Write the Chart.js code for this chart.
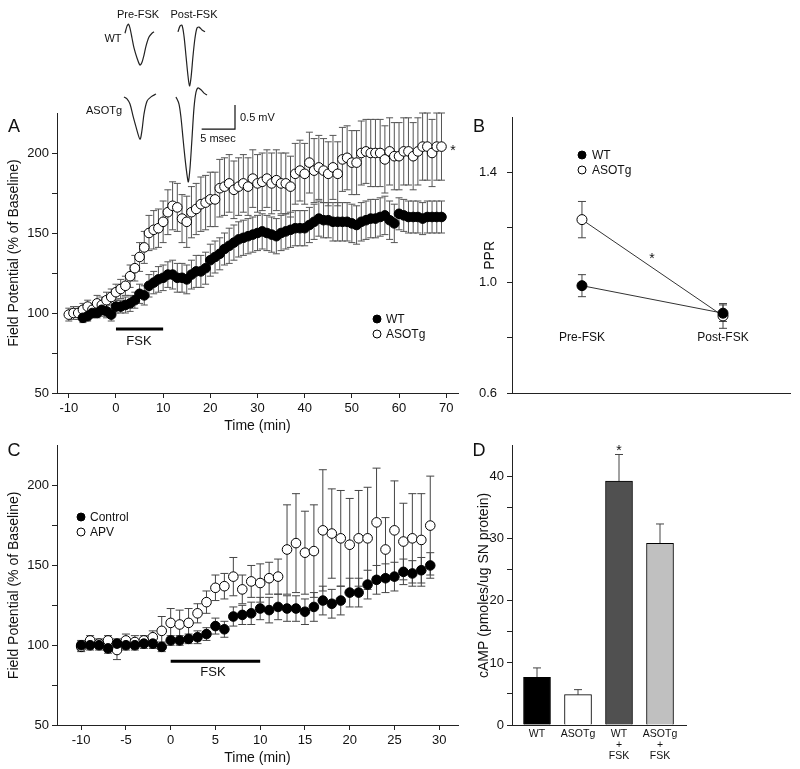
<!DOCTYPE html>
<html>
<head>
<meta charset="utf-8">
<title>FSK field potentials, PPR and cAMP</title>
<script src="https://cdn.jsdelivr.net/npm/chart.js@4.4.1/dist/chart.umd.min.js"></script>
<style>
  body { margin: 0; background: #fff; }
  #page { position: relative; width: 800px; height: 769px; overflow: hidden; font-family: "Liberation Sans", Arial, sans-serif; color: #111; }
  canvas { position: absolute; }
  .lbl { position: absolute; white-space: nowrap; line-height: 1; }
  .dot { position: absolute; width: 7px; height: 7px; border: 1px solid #000; border-radius: 50%; transform: translate(-50%, -50%); }
</style>
</head>
<body>
<div id="page">
  <canvas id="chartA" width="470" height="340" style="left:0;top:100px"></canvas>
  <canvas id="chartB" width="330" height="340" style="left:470px;top:100px"></canvas>
  <canvas id="chartC" width="470" height="334" style="left:0;top:435px"></canvas>
  <canvas id="chartD" width="330" height="334" style="left:470px;top:435px"></canvas>
  <canvas id="traces" width="200" height="190" style="left:100px;top:0"></canvas>
</div>
<script>
// ---- panel A: field potential (% of baseline), WT vs ASOTg ----
const timeA = [-10,-9,-8,-7,-6,-5,-4,-3,-2,-1,0,1,2,3,4,5,6,7,8,9,10,11,12,13,14,15,16,17,18,19,
  20,21,22,23,24,25,26,27,28,29,30,31,32,33,34,35,36,37,38,39,40,41,42,43,44,45,46,47,48,49,
  50,51,52,53,54,55,56,57,58,59,60,61,62,63,64,65,66,67,68,69];
const asotgA = [99,100,100,102,104,102,106,105,108,110,
  113,115,117,123,128,135,141,150,152,153,
  157,163,167,166,159,157,163,165,168,169,
  171,171,178,179,181,177,179,181,179,184,
  181,182,184,181,183,181,181,179,187,189,
  187,194,189,191,189,187,191,187,196,197,
  194,194,200,201,200,200,200,196,201,198,
  198,201,201,198,201,204,204,200,204,204];
const asotgAErr = [4,4,4,4,4,4,5,5,5,5,
  5,6,6,7,8,9,10,11,12,12,
  13,14,15,15,15,16,16,16,17,17,
  17,17,18,18,18,18,18,18,18,18,
  18,18,18,19,19,19,19,19,19,19,
  19,19,20,20,20,20,20,20,20,20,
  20,20,20,20,21,21,21,21,21,21,
  21,21,21,21,21,21,21,21,21,21];
const timeWT = [-7,-6,-5,-4,-3,-2,-1,0,1,2,3,4,5,6,7,8,9,10,11,12,13,14,15,16,17,18,19,
  20,21,22,23,24,25,26,27,28,29,30,31,32,33,34,35,36,37,38,39,40,41,42,43,44,45,46,47,48,49,
  50,51,52,53,54,55,56,57,58,59,60,61,62,63,64,65,66,67,68,69];
const wtA = [97,98,100,100,102,101,99,
  104,104,105,106,108,112,111,117,119,121,
  122,124,124,122,122,121,124,126,126,128,
  133,135,137,140,142,144,146,147,148,149,
  150,151,150,149,148,150,151,152,153,153,
  153,155,157,159,158,158,157,157,157,157,
  156,155,157,158,159,159,160,161,158,156,
  162,161,160,160,160,159,160,160,160,160];
const wtAErr = [3,3,3,3,4,4,4,
  4,4,5,5,5,6,6,7,7,8,
  8,8,9,9,9,9,9,10,10,10,
  10,10,10,10,11,11,11,11,11,11,
  11,11,11,11,11,11,11,11,11,11,
  11,11,11,11,11,11,12,12,12,12,
  12,12,12,12,12,12,12,12,12,12,
  10,10,10,10,10,10,10,10,10,10];
const xTicksA = [-10,0,10,20,30,40,50,60,70];
const yTicksA = [50,75,100,125,150,175,200];
const yLabelsA = [50,100,150,200];

// ---- panel B: paired-pulse ratio ----
const pprPos = [0, 1]; // Pre-FSK, Post-FSK
const pprWT = [0.99, 0.89];
const pprWTErr = [0.04, 0.03];
const pprASOTg = [1.23, 0.88];
const pprASOTgErr = [0.066, 0.045];
const yTicksB = [0.6, 0.8, 1.0, 1.2, 1.4];
const yLabelsB = [0.6, 1.0, 1.4];

// ---- panel C: Control vs APV ----
const timeC = [-10,-9,-8,-7,-6,-5,-4,-3,-2,-1,0,1,2,3,4,5,6,7,8,9,
  10,11,12,13,14,15,16,17,18,19,20,21,22,23,24,25,26,27,28,29];
const controlC = [100,100,100,98,101,100,100,101,101,99,
  103,103,104,105,107,112,110,118,119,120,
  123,122,124,123,123,121,124,128,126,128,
  133,133,138,141,142,143,146,145,147,150];
const controlCErr = [3,3,3,3,3,3,3,3,3,3,
  3,3,3,4,4,5,5,6,6,7,
  7,8,8,8,8,8,9,9,9,9,
  9,9,9,9,9,9,8,8,8,8];
const apvC = [99,103,101,103,97,103,102,103,105,109,
  114,113,114,120,127,136,137,143,135,140,
  139,142,143,160,164,158,159,172,170,167,
  163,167,167,177,160,172,165,167,166,175];
const apvCErr = [3,3,3,3,6,4,4,3,4,9,
  9,9,9,6,7,8,8,12,9,10,
  12,10,11,28,31,26,29,38,28,30,
  29,30,32,34,20,31,24,28,29,31];
const xTicksC = [-10,-5,0,5,10,15,20,25,30];

// ---- panel D: cAMP ----
const campGroups = [['WT'], ['ASOTg'], ['WT', '+', 'FSK'], ['ASOTg', '+', 'FSK']];
const campPos = [0, 1, 2, 3];
const campMean = [7.7, 4.9, 39.3, 29.3];
const campErr = [1.5, 0.8, 4.3, 3.1];
const yTicksD = [0,5,10,15,20,25,30,35,40];
const yLabelsD = [0,10,20,30,40];

// ---- example sweeps (ms, mV) ----
const wtPreTrace = [[3.75,-0.70],[4.05,-0.55],[4.28,-0.51],[4.5,-0.59],[4.8,-0.80],[5.1,-1.01],[5.55,-1.22],
  [6.0,-1.37],[6.3,-1.31],[6.6,-1.16],[6.9,-0.97],[7.35,-0.78],[7.8,-0.70],[8.1,-0.67]];
const wtPostTrace = [[11.7,-0.67],[12.0,-0.55],[12.3,-0.53],[12.6,-0.76],[12.9,-1.18],[13.2,-1.60],[13.43,-1.81],
  [13.65,-1.64],[13.95,-1.18],[14.25,-0.80],[14.55,-0.59],[14.85,-0.57],[15.3,-0.63],[15.75,-0.67]];
const asoPreTrace = [[3.6,-2.04],[4.05,-2.08],[4.5,-2.19],[4.95,-2.44],[5.4,-2.67],[6.0,-2.93],[6.3,-2.74],
  [6.6,-2.40],[7.05,-2.13],[7.65,-2.04],[8.4,-1.98]];
const asoPostTrace = [[11.4,-2.04],[11.85,-2.19],[12.15,-2.48],[12.45,-2.91],[12.75,-3.33],[13.05,-3.68],[13.25,-3.83],
  [13.5,-3.54],[13.8,-2.91],[14.1,-2.27],[14.4,-1.94],[14.7,-1.85],[15.15,-1.89],[15.6,-1.96],[16.05,-2.0]];
const scaleBar = [[15.25,-2.72],[20.25,-2.72],[20.25,-2.21]]; // 5 msec, 0.5 mV

const fskOn = 0, fskOff = 10, fskLevel = 90;

Chart.defaults.font.family = '"Liberation Sans", Arial, sans-serif';
Chart.defaults.color = '#111';

const xy = (xs, ys) => xs.map((x, i) => ({ x: x, y: ys[i] }));
const pairs = arr => arr.map(p => ({ x: p[0], y: p[1] }));
const setTicks = vals => axis => { axis.ticks = vals.map(v => ({ value: v })); };
const onlyLabels = labels => v => labels.includes(v) ? String(v) : '';

// error bars drawn from each dataset's "errors" list
const errorBars = {
  id: 'errorBars',
  beforeDatasetsDraw(chart) {
    const ctx = chart.ctx;
    const yScale = chart.scales.y;
    chart.data.datasets.forEach((ds, i) => {
      if (!ds.errors) return;
      const meta = chart.getDatasetMeta(i);
      ctx.save();
      ctx.strokeStyle = ds.errorColor || '#555';
      ctx.lineWidth = 1;
      meta.data.forEach((el, j) => {
        const v = ds.data[j].y;
        const e = ds.errors[j];
        const top = yScale.getPixelForValue(v + e);
        const bot = ds.errorUpOnly ? yScale.getPixelForValue(v) : yScale.getPixelForValue(v - e);
        const c = (ds.capWidth || 8) / 2;
        ctx.beginPath();
        ctx.moveTo(el.x, top); ctx.lineTo(el.x, bot);
        ctx.moveTo(el.x - c, top); ctx.lineTo(el.x + c, top);
        if (!ds.errorUpOnly) { ctx.moveTo(el.x - c, bot); ctx.lineTo(el.x + c, bot); }
        ctx.stroke();
      });
      ctx.restore();
    });
  }
};

// black FSK application bar
const fskBar = {
  id: 'fskBar',
  afterDatasetsDraw(chart) {
    const { ctx, scales: { x, y } } = chart;
    ctx.save();
    ctx.strokeStyle = '#000';
    ctx.lineWidth = 3;
    ctx.beginPath();
    ctx.moveTo(x.getPixelForValue(fskOn), y.getPixelForValue(fskLevel));
    ctx.lineTo(x.getPixelForValue(fskOff), y.getPixelForValue(fskLevel));
    ctx.stroke();
    ctx.restore();
  }
};

function axis(opts) {
  return Object.assign({
    type: 'linear',
    grid: { display: true, drawOnChartArea: false, drawTicks: true, tickLength: 5, color: '#222', offset: false },
    border: { display: true, color: '#222', width: 1 },
    ticks: { font: { size: 13 }, color: '#111', padding: 3, maxRotation: 0, autoSkip: false }
  }, opts);
}

const baseOptions = (padding, scales) => ({
  responsive: false,
  animation: false,
  events: [],
  layout: { padding: padding },
  plugins: { legend: { display: false }, tooltip: { enabled: false } },
  scales: scales
});

// Panel A
new Chart(document.getElementById('chartA'), {
  type: 'scatter',
  data: {
    datasets: [
      { label: 'WT', data: xy(timeWT, wtA), errors: wtAErr, capWidth: 7, errorColor: '#555',
        pointRadius: 4.8, pointBorderWidth: 1, backgroundColor: '#000', borderColor: '#000' },
      { label: 'ASOTg', data: xy(timeA, asotgA), errors: asotgAErr, capWidth: 7, errorColor: '#555',
        pointRadius: 4.8, pointBorderWidth: 1, backgroundColor: '#fff', borderColor: '#000' }
    ]
  },
  options: baseOptions({ top: 13, right: 12, left: 0, bottom: 0 }, {
    x: axis({ min: -12.5, max: 72.5, afterBuildTicks: setTicks(xTicksA),
      title: { display: true, text: 'Time (min)', font: { size: 14 }, padding: { top: 0, bottom: 5.6 } },
      afterFit: s => { s.height = 47; } }),
    y: axis({ min: 50, max: 225, afterBuildTicks: setTicks(yTicksA),
      ticks: { font: { size: 13 }, color: '#111', padding: 3, callback: onlyLabels(yLabelsA) },
      title: { display: true, text: 'Field Potential (% of Baseline)', font: { size: 14 }, padding: { top: 5.6, bottom: 0 } },
      afterFit: s => { s.width = 57; } })
  }),
  plugins: [errorBars, fskBar]
});

// Panel B
new Chart(document.getElementById('chartB'), {
  type: 'scatter',
  data: {
    datasets: [
      { label: 'WT', data: xy(pprPos, pprWT), errors: pprWTErr, capWidth: 8, errorColor: '#444',
        showLine: true, borderWidth: 1, pointRadius: 5, pointBorderWidth: 1,
        backgroundColor: '#000', borderColor: '#333', pointBorderColor: '#000' },
      { label: 'ASOTg', data: xy(pprPos, pprASOTg), errors: pprASOTgErr, capWidth: 8, errorColor: '#444',
        showLine: true, borderWidth: 1, pointRadius: 5, pointBorderWidth: 1,
        backgroundColor: '#fff', borderColor: '#333', pointBackgroundColor: '#fff', pointBorderColor: '#000' }
    ]
  },
  options: baseOptions({ top: 12, right: 10, left: 0, bottom: 0 }, {
    x: axis({ min: -0.496, max: 1.475,
      grid: { display: false, drawTicks: false },
      ticks: { display: false },
      afterFit: s => { s.height = 47; } }),
    y: axis({ min: 0.6, max: 1.6, afterBuildTicks: setTicks(yTicksB),
      ticks: { font: { size: 13 }, color: '#111', padding: 10,
        callback: v => yLabelsB.includes(v) ? v.toFixed(1) : '' },
      title: { display: true, text: 'PPR', font: { size: 14 }, padding: { top: 11.6, bottom: 0 } },
      afterFit: s => { s.width = 42; } })
  }),
  plugins: [errorBars]
});

// Panel C
new Chart(document.getElementById('chartC'), {
  type: 'scatter',
  data: {
    datasets: [
      { label: 'Control', data: xy(timeC, controlC), errors: controlCErr, capWidth: 8, errorColor: '#444',
        pointRadius: 4.8, pointBorderWidth: 1, backgroundColor: '#000', borderColor: '#000' },
      { label: 'APV', data: xy(timeC, apvC), errors: apvCErr, capWidth: 8, errorColor: '#444',
        pointRadius: 4.8, pointBorderWidth: 1, backgroundColor: '#fff', borderColor: '#000' }
    ]
  },
  options: baseOptions({ top: 9, right: 12, left: 0, bottom: 0 }, {
    x: axis({ min: -12.7, max: 32.1, afterBuildTicks: setTicks(xTicksC),
      title: { display: true, text: 'Time (min)', font: { size: 14 }, padding: { top: 0, bottom: 2.6 } },
      afterFit: s => { s.height = 44; } }),
    y: axis({ min: 50, max: 225, afterBuildTicks: setTicks(yTicksA),
      ticks: { font: { size: 13 }, color: '#111', padding: 3, callback: onlyLabels(yLabelsA) },
      title: { display: true, text: 'Field Potential (% of Baseline)', font: { size: 14 }, padding: { top: 5.6, bottom: 0 } },
      afterFit: s => { s.width = 57; } })
  }),
  plugins: [errorBars, fskBar]
});

// Panel D
new Chart(document.getElementById('chartD'), {
  type: 'bar',
  data: {
    datasets: [{
      label: 'cAMP',
      data: xy(campPos, campMean),
      errors: campErr, errorUpOnly: true, capWidth: 8, errorColor: '#444',
      backgroundColor: ['#000000', '#ffffff', '#505050', '#c0c0c0'],
      borderColor: '#000', borderWidth: 1, barThickness: 27
    }]
  },
  options: baseOptions({ top: 9, right: 114, left: 0, bottom: 0 }, {
    x: axis({ min: -0.61, max: 3.634, offset: false, afterBuildTicks: setTicks(campPos),
      grid: { display: true, drawOnChartArea: false, drawTicks: false, offset: false },
      ticks: { font: { size: 10.5, lineHeight: 1.05 }, color: '#111', padding: 4, maxRotation: 0, autoSkip: false,
        callback: v => campGroups[v] },
      afterFit: s => { s.height = 44; } }),
    y: axis({ min: 0, max: 45, afterBuildTicks: setTicks(yTicksD),
      ticks: { font: { size: 13 }, color: '#111', padding: 3, callback: onlyLabels(yLabelsD) },
      title: { display: true, text: 'cAMP (pmoles/ug SN protein)', font: { size: 14 }, padding: { top: 5.6, bottom: 0 } },
      afterFit: s => { s.width = 42; } })
  }),
  plugins: [errorBars]
});

// example sweeps + scale bar
const sweep = d => ({ data: pairs(d), showLine: true, pointRadius: 0, borderColor: '#222', borderWidth: 1.2, tension: 0.3 });
new Chart(document.getElementById('traces'), {
  type: 'scatter',
  data: {
    datasets: [sweep(wtPreTrace), sweep(wtPostTrace), sweep(asoPreTrace), sweep(asoPostTrace),
      { data: pairs(scaleBar), showLine: true, pointRadius: 0, borderColor: '#111', borderWidth: 1.2, tension: 0 }]
  },
  options: baseOptions(0, {
    x: { type: 'linear', display: false, min: 0, max: 30 },
    y: { type: 'linear', display: false, min: -4, max: 0 }
  })
});

// text labels and legend keys
const page = document.getElementById('page');
function label(text, x, y, size, left) {
  const d = document.createElement('div');
  d.className = 'lbl';
  d.textContent = text;
  d.style.left = x + 'px';
  d.style.top = y + 'px';
  d.style.fontSize = size + 'px';
  d.style.transform = left ? 'translate(0,-50%)' : 'translate(-50%,-50%)';
  page.appendChild(d);
}
function key(x, y, filled) {
  const d = document.createElement('div');
  d.className = 'dot';
  d.style.left = x + 'px';
  d.style.top = y + 'px';
  d.style.background = filled ? '#000' : '#fff';
  page.appendChild(d);
}

label('A', 14, 126, 18); label('B', 479, 126, 18);
label('C', 14, 450, 18); label('D', 479, 450, 18);

label('Pre-FSK', 138, 14, 11); label('Post-FSK', 194, 14, 11);
label('WT', 113, 38, 11); label('ASOTg', 104, 110, 11);
label('0.5 mV', 240, 117, 11, true); label('5 msec', 218, 138, 11);

key(377, 319, true); label('WT', 386, 319, 12, true);
key(377, 334, false); label('ASOTg', 386, 334, 12, true);
label('FSK', 139, 340, 13);
label('*', 453, 150, 14);

key(582, 155, true); label('WT', 592, 155, 12, true);
key(582, 170, false); label('ASOTg', 592, 170, 12, true);
label('Pre-FSK', 582, 337, 12); label('Post-FSK', 723, 337, 12);
label('*', 652, 258, 14);

key(81, 517, true); label('Control', 90, 517, 12, true);
key(81, 532, false); label('APV', 90, 532, 12, true);
label('FSK', 213, 671, 13);

label('*', 619, 450, 14);
</script>
</body>
</html>
